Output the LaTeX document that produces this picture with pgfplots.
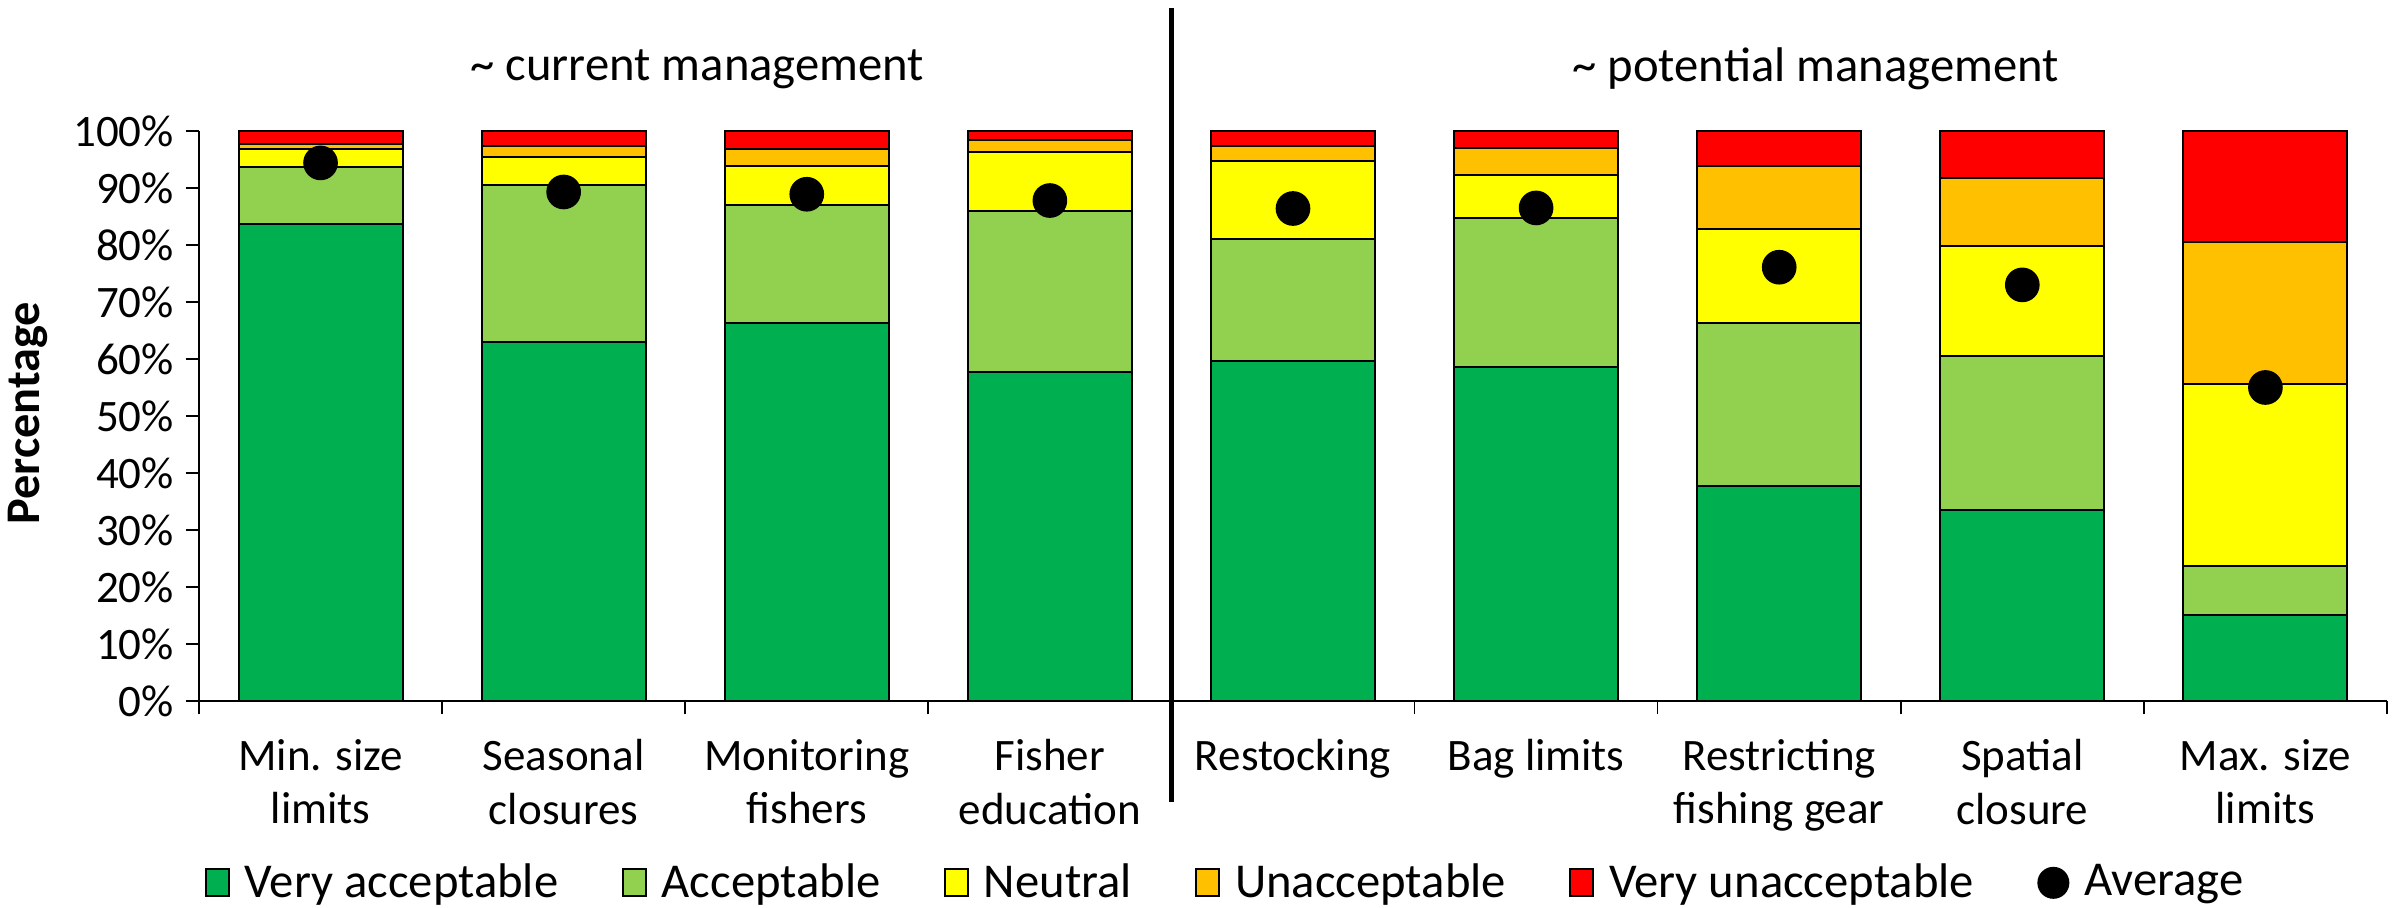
\documentclass[border=0pt]{standalone}
\usepackage{pgfplots}
\usepackage{pgfplotstable}
\pgfplotsset{compat=1.18}
\usepackage{fontspec}
\setmainfont{Carlito}
\definecolor{cVA}{HTML}{00B050}
\definecolor{cA}{HTML}{92D050}
\definecolor{cN}{HTML}{FFFF00}
\definecolor{cU}{HTML}{FFC000}
\definecolor{cVU}{HTML}{FF0000}
\pgfplotstableread{
x VA A N U VU Avg
0 83.7 10.0 3.1 0.9 2.3 94.4
1 62.9 27.6 4.9 2.0 2.6 89.3
2 66.4 20.6 6.9 2.9 3.2 88.9
3 57.7 28.3 10.4 2.0 1.6 87.8
4 59.6 21.5 13.6 2.7 2.6 86.4
5 58.6 26.2 7.5 4.7 3.0 86.5
6 37.7 28.6 16.5 11.1 6.1 76.1
7 33.5 27.1 19.2 12.0 8.2 73.0
8 15.1 8.6 31.9 24.9 19.5 55.0
}\data
\begin{document}
\begin{tikzpicture}[font=\fontsize{13.5}{16}\selectfont]
\useasboundingbox (-59.7pt,-62.1pt) rectangle (658.8pt,210.3pt);
\begin{axis}[
  scale only axis, width=656.4pt, height=171pt,
  xmin=-0.5, xmax=8.5, ymin=0, ymax=100,
  clip=false,
  ybar stacked, bar width=49.2pt,
  axis x line=bottom, axis y line=left,
  axis line style={-, black, line width=0.6pt},
  tick align=outside,
  xtick={0,...,8}, major x tick style={draw=none},
  xticklabels={{Min. size\\limits},{Seasonal\\closures},{Monitoring\\fishers},{Fisher\\education},{Restocking},{Bag limits},{Restricting\\fishing gear},{Spatial\\closure},{Max. size\\limits}},
  xticklabel style={align=center, anchor=north, yshift=-4pt},
  minor xtick={-0.5,0.5,1.5,2.5,4.5,5.5,6.5,7.5,8.5},
  minor tick length=4pt,
  major tick length=4pt,
  every tick/.style={black, line width=0.5pt},
  ytick={0,10,...,100},
  yticklabel={\pgfmathprintnumber{\tick}\%},
  /pgf/number format/assume math mode=true,
  ylabel={\bfseries Percentage},
  ylabel style={at={(axis description cs:-0.0784,0.505)}, anchor=center, font=\fontsize{14.5}{17}\selectfont},
  legend columns=6,
  legend style={draw=none, at={(0.47,-0.319)}, anchor=center, font=\fontsize{14.6}{17}\selectfont,
    /tikz/every odd column/.append style={column sep=2.5pt},
    /tikz/every even column/.append style={column sep=17pt}},
  legend image code/.code={\draw[#1, draw=black, line width=0.6pt] (0pt,-4pt) rectangle (6.9pt,4.1pt);},
  every axis plot/.append style={draw=black, line width=0.6pt},
]
\addplot[fill=cVA] table[x=x,y=VA]{\data};
\addlegendentry{Very acceptable}
\addplot[fill=cA] table[x=x,y=A]{\data};
\addlegendentry{Acceptable}
\addplot[fill=cN] table[x=x,y=N]{\data};
\addlegendentry{Neutral}
\addplot[fill=cU] table[x=x,y=U]{\data};
\addlegendentry{Unacceptable}
\addplot[fill=cVU] table[x=x,y=VU]{\data};
\addlegendentry{Very unacceptable}
\addlegendimage{legend image code/.code={\fill[black] (3.5pt,0pt) circle (4.5pt);}}
\addlegendentry{Average}
\draw[line width=1.7pt] (axis cs:3.5,-17.7) -- (axis cs:3.5,121.6);
\node[font=\fontsize{14.6}{17}\selectfont] at (axis cs:1.55,110.9) {\textasciitilde{} current management};
\node[font=\fontsize{14.6}{17}\selectfont] at (axis cs:6.15,110.9) {\textasciitilde{} potential management};
\end{axis}
\begin{axis}[
  scale only axis, width=656.4pt, height=171pt,
  xmin=-0.5, xmax=8.5, ymin=0, ymax=100,
  hide axis, clip=false,
]
\addplot[only marks, mark=*, mark size=5pt, black] table[x=x,y=Avg]{\data};
\end{axis}
\end{tikzpicture}
\end{document}
